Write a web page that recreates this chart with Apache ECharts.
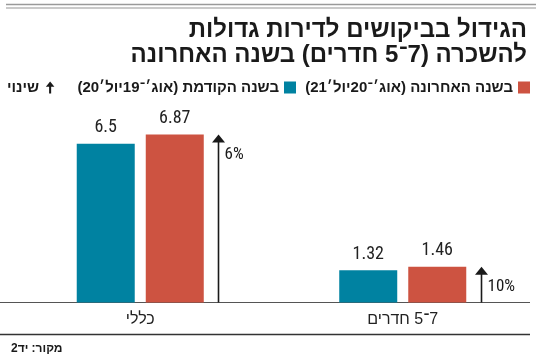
<!DOCTYPE html>
<html>
<head>
<meta charset="utf-8">
<script src="https://cdn.jsdelivr.net/npm/echarts@6/dist/echarts.min.js"></script>
<style>
html,body{margin:0;padding:0;background:#fff;}
#c{width:550px;height:358px;}
</style>
</head>
<body>
<div id="c"></div>
<script>
const titleLines = ['הגידול בביקושים לדירות גדולות', 'להשכרה (7־5 חדרים) בשנה האחרונה'];
const categories = ['כללי', '7־5 חדרים'];
const prevYearName = 'בשנה הקודמת (אוג׳־19יול׳20)';
const lastYearName = 'בשנה האחרונה (אוג׳־20יול׳21)';
const changeName = 'שינוי';
const prevYear = [6.5, 1.32];
const lastYear = [6.87, 1.46];
const changePct = [6, 10];
const sourceText = 'מקור: יד2';

// wrap mixed Hebrew/number strings in an RTL embedding (only where digits occur)
const rtl = s => /\d/.test(s) ? '\u202B' + s + '\u202C' : s;
const BLUE = '#0082a1';
const RED = '#cd5341';
const NARROW = '"Liberation Sans Narrow", "Roboto Condensed", Roboto, sans-serif';
const HEB = '"Liberation Sans", "DejaVu Sans", sans-serif';

const arrowData = categories.map((c, i) => [i, lastYear[i], changePct[i]]);

const titleStyle = {fontFamily: HEB, fontWeight: 'bold', fontSize: 24, color: '#1a1a1a'};
const legendBase = {
  top: 80, orient: 'horizontal', align: 'right', padding: 0,
  itemWidth: 12, itemHeight: 12, itemGap: 8,
  symbolKeepAspect: true,
  formatter: name => rtl(name),
  textStyle: {fontFamily: HEB, fontWeight: 'bold', fontSize: 15, color: '#1a1a1a'}
};

const chart = echarts.init(document.getElementById('c'), null, {renderer: 'canvas'});
chart.setOption({
  animation: false,
  title: [
    {text: titleLines[0], right: 18, top: 13, textStyle: titleStyle},
    {text: rtl(titleLines[1]), right: 18, top: 38, textStyle: titleStyle},
    {text: rtl(sourceText), left: 6, top: 338,
     textStyle: {fontFamily: HEB, fontWeight: 'bold', fontSize: 12, color: '#1a1a1a'}}
  ],
  legend: [
    Object.assign({}, legendBase, {right: 20, data: [{name: lastYearName, icon: 'rect'}]}),
    Object.assign({}, legendBase, {right: 254, data: [{name: prevYearName, icon: 'rect'}]}),
    Object.assign({}, legendBase, {left: 7, data: [{name: changeName, icon: 'path://M5,0 L10,6 L6.2,6 L6.2,14 L3.8,14 L3.8,6 L0,6 Z'}]})
  ],
  grid: {left: 9, right: 16, top: 107, bottom: 55.5},
  xAxis: {
    type: 'category',
    data: categories,
    axisLine: {show: false},
    axisTick: {show: false},
    axisLabel: {fontFamily: HEB, fontSize: 16, color: '#222', margin: 9, align: 'center',
      alignMinLabel: 'center', alignMaxLabel: 'center', formatter: v => rtl(v)}
  },
  yAxis: {type: 'value', min: 0, max: 8, show: false, splitLine: {show: false}},
  graphic: [
    {type: 'line', shape: {x1: 6, y1: 4.5, x2: 536, y2: 4.5}, style: {stroke: '#9a9a9a', lineWidth: 1.5}},
    {type: 'line', shape: {x1: 6, y1: 8, x2: 536, y2: 8}, style: {stroke: '#b8b8b8', lineWidth: 1.5}},
    {type: 'line', shape: {x1: 0, y1: 302.5, x2: 530, y2: 302.5}, style: {stroke: '#555', lineWidth: 1}},
    {type: 'line', shape: {x1: 0, y1: 334.5, x2: 530, y2: 334.5}, style: {stroke: '#333', lineWidth: 1.5}}
  ],
  series: [{
    name: prevYearName, type: 'bar', data: prevYear,
    barWidth: 58, barGap: '19%',
    itemStyle: {color: BLUE},
    label: {show: true, position: 'top', distance: 7, fontFamily: NARROW, fontSize: 18, color: '#222'}
  }, {
    name: lastYearName, type: 'bar', data: lastYear,
    barWidth: 58,
    itemStyle: {color: RED},
    label: {show: true, position: 'top', distance: 7, fontFamily: NARROW, fontSize: 18, color: '#222'}
  }, {
    name: changeName, type: 'custom', data: arrowData,
    encode: {x: 0, y: 1},
    itemStyle: {color: '#1a1a1a'},
    renderItem: function (params, api) {
      const top = api.coord([api.value(0), api.value(1)]);
      const base = api.coord([api.value(0), 0]);
      const x = Math.round(top[0] + 78) + 0.5;
      return {type: 'group', children: [
        {type: 'line', shape: {x1: x, y1: base[1], x2: x, y2: top[1] + 7}, style: {stroke: '#1a1a1a', lineWidth: 1.6}},
        {type: 'polygon', shape: {points: [[x - 6.5, top[1] + 8], [x + 6.5, top[1] + 8], [x, top[1]]]}, style: {fill: '#1a1a1a'}},
        {type: 'text', style: {text: api.value(2) + '%', x: x + 6, y: top[1] + 20, align: 'left', verticalAlign: 'middle', fill: '#1a1a1a', font: '17px ' + NARROW}}
      ]};
    }
  }]
});
</script>
</body>
</html>
